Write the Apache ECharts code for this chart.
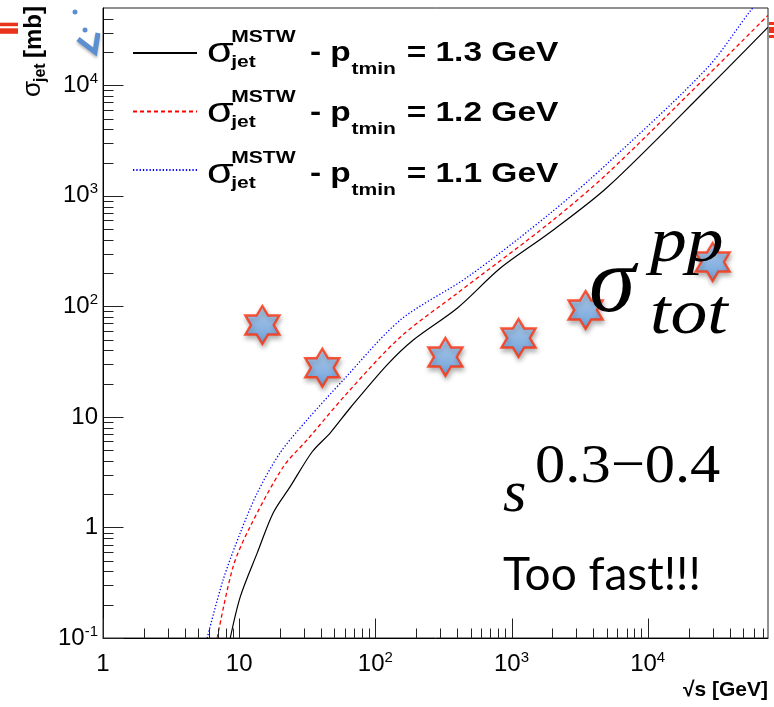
<!DOCTYPE html>
<html><head><meta charset="utf-8">
<script src="https://cdn.jsdelivr.net/npm/echarts@6/dist/echarts.min.js"></script>
<style>html,body{margin:0;padding:0;background:#fff}#c{width:774px;height:707px}</style>
</head><body><div id="c"></div>
<script>
// ---- data ----
const sqrtS_13 = [8.6, 10.2, 13.6, 17.8, 23.7, 34.4, 46.7, 65.5, 122, 190, 401, 830, 1936, 5080, 27600, 76300];
const sigma_13 = [0.1, 0.237, 0.592, 1.36, 2.34, 4.84, 7.18, 12.1, 29.6, 49.7, 96.8, 222, 470, 1200, 9400, 33400];
const sqrtS_12 = [6.9, 9.03, 12.05, 21.1, 31.6, 62.3, 153, 401, 1936, 5080, 27600, 76300];
const sigma_12 = [0.1, 0.443, 1.02, 3.54, 6.21, 16.5, 52.9, 132, 578, 1600, 12300, 42900];
const sqrtS_11 = [5.82, 7.63, 10.2, 13.6, 20, 31.6, 58.2, 153, 475, 1936, 5080, 27600, 57200, 70000];
const sigma_11 = [0.1, 0.337, 0.897, 2.06, 4.74, 9.42, 21.6, 75.4, 184, 698, 1970, 14500, 47600, 62000];
const sqrtS_tot = [14.8, 40.8, 327, 1126, 3500, 30000];
const sigma_tot = [67.9, 27.8, 34.9, 51.8, 92.8, 252];

const xMajorTicks = [1, 10, 100, 1000, 10000];
const xMinorTicks = [2,3,4,5,6,7,8,9, 20,30,40,50,60,70,80,90, 200,300,400,500,600,700,800,900,
  2000,3000,4000,5000,6000,7000,8000,9000, 20000,30000,40000,50000,60000,70000];
const yMajorTicks = [0.1, 1, 10, 100, 1000, 10000];
const yMinorTicks = [0.2,0.3,0.4,0.5,0.6,0.7,0.8,0.9, 2,3,4,5,6,7,8,9, 20,30,40,50,60,70,80,90,
  200,300,400,500,600,700,800,900, 2000,3000,4000,5000,6000,7000,8000,9000, 20000,30000,40000];
const xMin = 1, xMax = 76500, yMin = 0.1, yMax = 50000;

const legendNames = ['pt13', 'pt12', 'pt11'];
const legendValues = ['1.3', '1.2', '1.1'];

// ---- helpers ----
const zip = (a, b) => a.map((v, i) => [v, b[i]]);
const SANS = '"Liberation Sans", Arial, "DejaVu Sans", sans-serif';
const SERIF = '"Liberation Serif", "Times New Roman", serif';
function decadeLabel(v) {
  const l = Math.log10(v), e = Math.round(l);
  if (Math.abs(l - e) > 1e-6) return '';
  if (e === 0) return '{b|1}';
  if (e === 1) return '{b|10}';
  return '{b|10}{s|' + e + '}';
}
const labelRich = {
  b: {fontSize: 24, fontFamily: SANS, color: '#000', lineHeight: 28},
  s: {fontSize: 15, fontFamily: SANS, color: '#000', lineHeight: 14, verticalAlign: 'top'}
};
const tickData = (arr, major, axis) => arr.map(v => axis === 'x' ? [v, yMin, major] : [xMin, v, major]);
function tickRender(axis) {
  return function (params, api) {
    const p = api.coord([api.value(0), api.value(1)]);
    const len = api.value(2) ? 20 : 10;
    const x = Math.round(p[0]) + 0.5, y = Math.round(p[1]) + 0.5;
    const shape = axis === 'x' ? {x1: x, y1: y, x2: x, y2: y - len} : {x1: x, y1: y, x2: x + len, y2: y};
    return {type: 'line', shape: shape, style: {stroke: '#222', lineWidth: 1}};
  };
}
const starPath = 'path://M50,0L64.43,25L93.3,25L78.87,50L93.3,75L64.43,75L50,100L35.57,75L6.7,75L21.13,50L6.7,25L35.57,25Z';

function txt(text, x, y, font, extra) {
  return Object.assign({type: 'text', x: x, y: y, style: {text: text, font: font, fill: '#000',
    align: 'left', verticalAlign: 'middle', textAlign: 'left', textVerticalAlign: 'middle'}}, extra || {});
}
function legendRow(val, yc) {
  return {type: 'group', x: 207, y: yc, scaleX: 1.24, children: [
    txt('σ', 0, -1, '35px ' + SANS),
    txt('MSTW', 19.5, -16, 'bold 17px ' + SANS),
    txt('jet', 19.5, 9, 'bold 17px ' + SANS),
    txt('- p', 83, 0, 'bold 27px ' + SANS),
    txt('tmin', 116.5, 16, 'bold 17px ' + SANS),
    txt('= ' + val + ' GeV', 161, 0, 'bold 27px ' + SANS)
  ]};
}

const chart = echarts.init(document.getElementById('c'), null, {renderer: 'canvas'});
chart.setOption({
  animation: false,
  backgroundColor: '#fff',
  grid: {left: 103, right: 6, top: 8, bottom: 69, show: true, borderColor: '#222', borderWidth: 1,
    backgroundColor: 'transparent', containLabel: false, outerBoundsMode: 'none'},
  xAxis: {type: 'log', logBase: 10, min: xMin, max: xMax,
    axisLine: {show: true, lineStyle: {color: '#000', width: 1}},
    axisTick: {show: false}, minorTick: {show: false}, splitLine: {show: false},
    axisLabel: {show: true, margin: 12, formatter: decadeLabel, rich: labelRich, showMaxLabel: false,
      hideOverlap: false}},
  yAxis: {type: 'log', logBase: 10, min: yMin, max: yMax,
    axisLine: {show: true, lineStyle: {color: '#000', width: 1}},
    axisTick: {show: false}, minorTick: {show: false}, splitLine: {show: false},
    axisLabel: {show: true, margin: 5, formatter: decadeLabel, rich: labelRich, showMaxLabel: false,
      hideOverlap: false}},
  legend: {orient: 'vertical', left: 132, top: 43, itemWidth: 64, itemHeight: 20, itemGap: 40.5,
    data: legendNames, formatter: () => '', textStyle: {fontSize: 10}, padding: 0, selectedMode: false,
    itemStyle: {opacity: 0}},
  series: [
    {type: 'line', name: legendNames[0], data: zip(sqrtS_13, sigma_13), symbol: 'none', smooth: 0.3,
      lineStyle: {color: '#000', width: 1.2, type: 'solid'}, itemStyle: {color: '#000'}, z: 3},
    {type: 'line', name: legendNames[1], data: zip(sqrtS_12, sigma_12), symbol: 'none', smooth: 0.3,
      lineStyle: {color: '#ff0000', width: 1.3, type: [4, 3]}, itemStyle: {color: '#ff0000'}, z: 3},
    {type: 'line', name: legendNames[2], data: zip(sqrtS_11, sigma_11), symbol: 'none', smooth: 0.3,
      lineStyle: {color: '#0000ff', width: 1.3, type: [1.3, 2]}, itemStyle: {color: '#0000ff'}, z: 3},
    {type: 'scatter', name: 'sigma_tot', data: zip(sqrtS_tot, sigma_tot), symbol: starPath, symbolSize: [34, 38],
      itemStyle: {color: {type: 'linear', x: 0, y: 0, x2: 0, y2: 1,
        colorStops: [{offset: 0, color: '#b0d2f8'}, {offset: 1, color: '#5a9ae2'}]},
        borderColor: '#ff300a', borderWidth: 2.4, shadowBlur: 5, shadowOffsetX: 1, shadowOffsetY: 3,
        shadowColor: 'rgba(0,0,0,0.35)'}, z: 5, silent: true},
    {type: 'custom', name: 'xticks', data: tickData(xMajorTicks, 1, 'x').concat(tickData(xMinorTicks, 0, 'x')),
      renderItem: tickRender('x'), silent: true, clip: false, z: 6},
    {type: 'custom', name: 'yticks', data: tickData(yMajorTicks, 1, 'y').concat(tickData(yMinorTicks, 0, 'y')),
      renderItem: tickRender('y'), silent: true, clip: false, z: 6}
  ],
  graphic: [
    legendRow(legendValues[0], 53.3),
    legendRow(legendValues[1], 113.8),
    legendRow(legendValues[2], 174.3),
    // y axis title
    {type: 'group', x: 42, y: 97, rotation: Math.PI / 2, children: [
      txt('σ', 0, -9, '26px ' + SANS),
      txt('jet', 15, -1, 'bold 16px ' + SANS),
      txt('[mb]', 39, -8, 'bold 24px ' + SANS)
    ]},
    // x axis title
    {type: 'text', x: 768, y: 690, style: {text: '√s [GeV]', font: 'bold 21px ' + SANS, fill: '#000',
      align: 'right', verticalAlign: 'middle', textAlign: 'right', textVerticalAlign: 'middle'}},
    // annotations
    txt('σ', 589, 286, 'italic 94px ' + SERIF, {z: 20}),
    txt('pp', 650, 244, 'italic 64px ' + SERIF, {z: 20, scaleX: 1.15}),
    txt('tot', 650, 316, 'italic 64px ' + SERIF, {z: 20, scaleX: 1.15}),
    txt('s', 503, 495, 'italic 60px ' + SERIF, {z: 20}),
    txt('0.3−0.4', 535, 468, '55px ' + SERIF, {z: 20, scaleX: 1.1}),
    txt('Too fast!!!', 503, 575, '46px Lato, "Open Sans", sans-serif', {z: 20}),
    // slide decorations
    {type: 'rect', shape: {x: 0, y: 22.7, width: 18, height: 3.5}, style: {fill: '#e8341c'}},
    {type: 'rect', shape: {x: 0, y: 28.3, width: 18, height: 5.5}, style: {fill: '#e8341c'}},
    {type: 'rect', shape: {x: 769, y: 22, width: 5, height: 3}, style: {fill: '#e8341c'}},
    {type: 'rect', shape: {x: 769, y: 27, width: 5, height: 6}, style: {fill: '#e8341c'}},
    {type: 'rect', shape: {x: 769, y: 35, width: 5, height: 3}, style: {fill: '#e8341c'}},
    {type: 'circle', shape: {cx: 75, cy: 12, r: 2.5}, style: {fill: '#5b8fd0'}},
    {type: 'circle', shape: {cx: 85, cy: 30, r: 2.5}, style: {fill: '#5b8fd0'}},
    {type: 'polyline', shape: {points: [[78, 39], [95, 52], [98, 33]]},
      style: {stroke: '#5b8fd0', lineWidth: 5, fill: null, shadowBlur: 3, shadowColor: 'rgba(0,0,0,0.3)', shadowOffsetY: 2}}
  ]
});
</script></body></html>
